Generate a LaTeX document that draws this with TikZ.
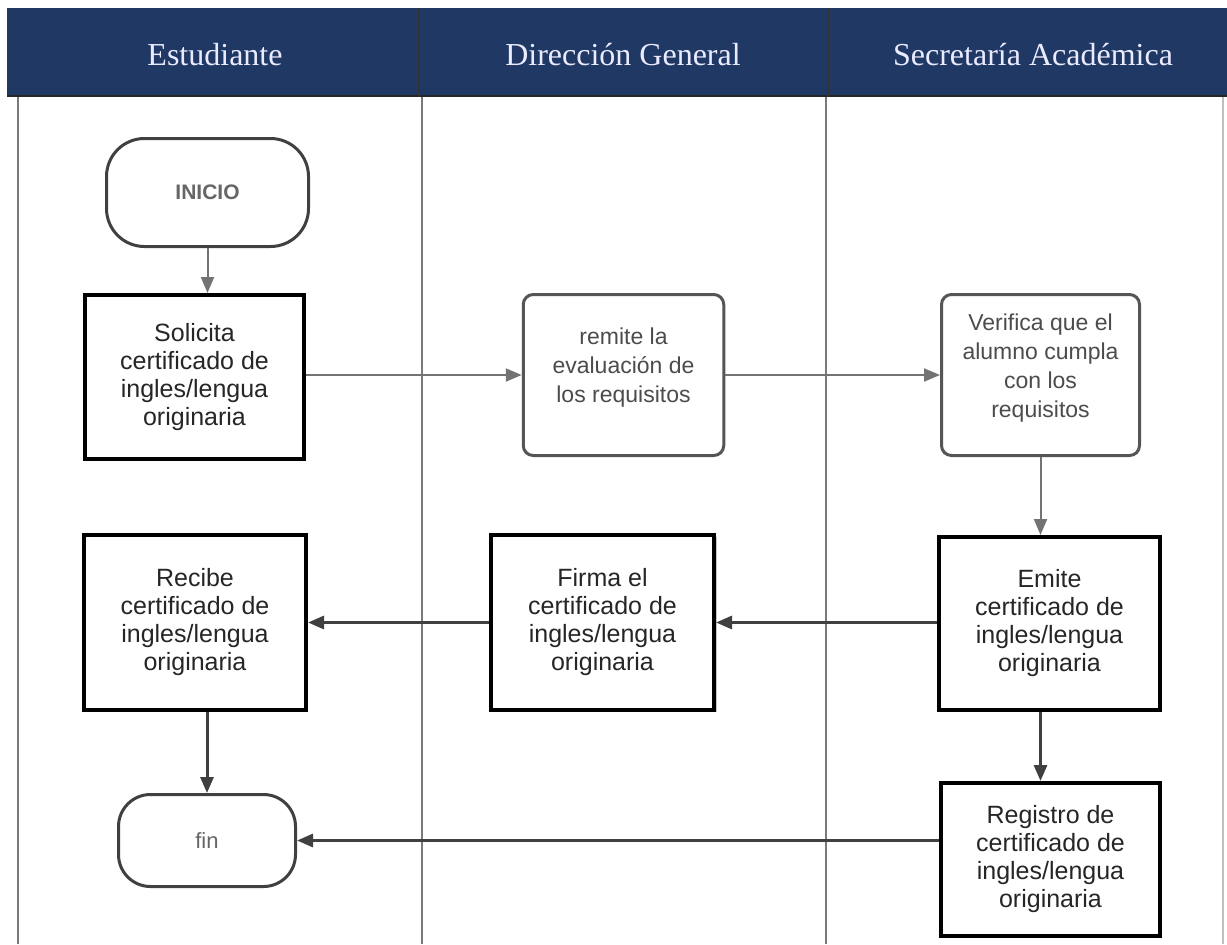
\documentclass[tikz,border=0pt]{standalone}
\usepackage{fontspec}
\setmainfont{Liberation Serif}
\newfontfamily\boxfont{Liberation Sans}
\usetikzlibrary{arrows.meta,shadows}
\definecolor{navy}{HTML}{1F3864}
\definecolor{lanegrey}{HTML}{7A7A7A}
\definecolor{softgrey}{HTML}{555555}
\tikzset{
  lane/.style={draw=lanegrey, line width=1pt},
  headtext/.style={text=white!92!blue, font=\fontsize{16}{18}\selectfont},
  blackbox/.style={draw=black, line width=2pt, fill=white, align=center, inner sep=0pt,
     font=\boxfont\fontsize{12.5}{14}\selectfont, text=black!85},
  greybox/.style={draw=softgrey, line width=1.5pt, rounded corners=5pt, fill=white, align=center, inner sep=0pt,
     font=\boxfont\fontsize{11.5}{14.5}\selectfont, text=black!70},
  terminal/.style={draw=black!75, line width=1.5pt, fill=white, align=center, inner sep=0pt, text=black!60},
  lightarrow/.style={draw=black!55, line width=1pt, -{Triangle[length=8pt,width=6.5pt]}},
  darkarrow/.style={draw=black!75, line width=1.5pt, -{Triangle[length=8pt,width=6.5pt]}},
}
\begin{document}
\begin{tikzpicture}[x=0.5pt,y=-0.5pt]
\useasboundingbox (0,0) rectangle (1227,944);
\fill[white] (0,0) rectangle (1227,944);
% header
\fill[navy] (7,8) rectangle (1227,97);
\draw[black!85, line width=1.2pt] (7,96) -- (1227,96);
\draw[black!80, line width=1pt] (419,8) -- (419,97);
\draw[black!80, line width=1pt] (828,8) -- (828,97);
\node[headtext] (h1) at (215,55) {Estudiante};
\node[headtext] (h2) at (623,55) {Dirección General};
\node[headtext] (h3) at (1033,55) {Secretaría Académica};
% lanes
\draw[lane] (18,97) -- (18,944);
\draw[lane] (422,97) -- (422,944);
\draw[lane] (826,97) -- (826,944);
\draw[draw=black!25, line width=1pt] (1223,97) -- (1223,944);
% nodes
\node[terminal, rounded corners=19pt, minimum width=101pt, minimum height=54pt,
      font=\boxfont\bfseries\fontsize{10.5}{12}\selectfont] (inicio) at (207.5,192.5) {INICIO};
\node[blackbox, minimum width=109.5pt, minimum height=82pt] (solicita) at (194.5,377)
  {Solicita\\certificado de\\ingles/lengua\\originaria};
\node[greybox, minimum width=100.25pt, minimum height=80.5pt] (remite) at (623.5,375)
  {remite la\\evaluación de\\los requisitos\\[-5pt]};
\node[greybox, minimum width=99pt, minimum height=80.5pt] (verifica) at (1040.5,375)
  {Verifica que el\\alumno cumpla\\con los\\requisitos\\[-5pt]};
\node[blackbox, minimum width=111pt, minimum height=87.5pt] (recibe) at (195,622.5)
  {Recibe\\certificado de\\ingles/lengua\\originaria};
\node[blackbox, minimum width=111.5pt, minimum height=87.5pt,
      drop shadow={shadow xshift=1.5pt, shadow yshift=-1pt, fill=black!45}] (firma) at (602.5,622.5)
  {Firma el\\certificado de\\ingles/lengua\\originaria};
\node[blackbox, minimum width=110.5pt, minimum height=86.5pt] (emite) at (1049.5,623.5)
  {Emite\\certificado de\\ingles/lengua\\originaria};
\node[terminal, rounded corners=16pt, minimum width=88.5pt, minimum height=46pt,
      font=\boxfont\fontsize{11}{13}\selectfont] (fin) at (207,840.5) {fin};
\node[blackbox, minimum width=109.5pt, minimum height=76.5pt] (registro) at (1050.5,859.5)
  {Registro de\\certificado de\\ingles/lengua\\originaria};
% connectors
\draw[lightarrow] (inicio.south) -- (inicio.south |- solicita.north);
\draw[lightarrow] (solicita.east |- remite.west) -- (remite.west);
\draw[lightarrow] (remite.east) -- (verifica.west);
\draw[lightarrow] (verifica.south) -- (verifica.south |- emite.north);
\draw[darkarrow] (emite.west |- firma.east) -- (firma.east);
\draw[darkarrow] (firma.west) -- (recibe.east);
\draw[darkarrow] (fin.north |- recibe.south) -- (fin.north);
\draw[darkarrow] (verifica.south |- emite.south) -- (verifica.south |- registro.north);
\draw[darkarrow] (fin.east -| registro.west) -- (fin.east);
\end{tikzpicture}
\end{document}
